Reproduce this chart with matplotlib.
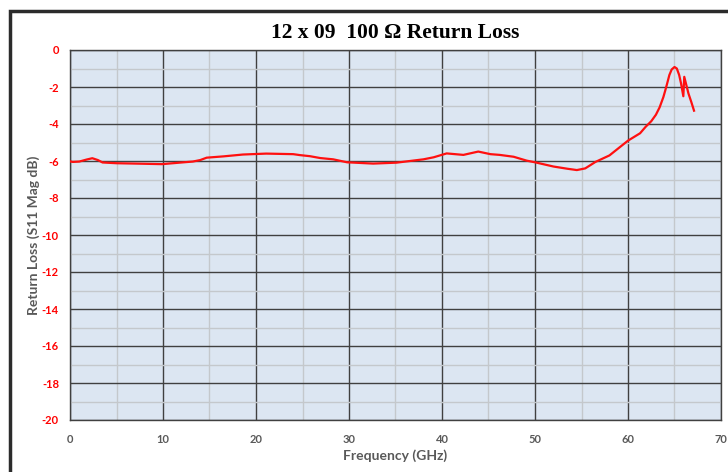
import matplotlib
matplotlib.use("Agg")
import matplotlib.pyplot as plt
from matplotlib.patches import Rectangle
from matplotlib.ticker import MultipleLocator
import numpy as np

plt.rcParams["axes.unicode_minus"] = False

title = "12 x 09  100 \u03a9 Return Loss"
xlabel = "Frequency (GHz)"
ylabel = "Return Loss (S11 Mag dB)"

freq = [0.0, 0.3, 1.0, 1.8, 2.4, 3.0, 3.5, 5.0, 7.0, 9.9, 12.0, 13.2, 14.0, 14.7, 16.5,
        18.6, 21.1, 24.0, 24.7, 25.8, 26.9, 28.3, 29.8, 32.6, 35.1, 38.0, 39.1, 40.5,
        42.3, 43.9, 45.2, 46.2, 47.7, 49.1, 50.0, 52.0, 53.5, 54.5, 55.4, 56.5, 58.0,
        60.0, 61.3, 61.9, 62.5, 63.0, 63.4, 63.8, 64.0, 64.2, 64.45, 64.7, 65.0, 65.25,
        65.5, 65.7, 65.95, 66.05, 66.3, 66.5, 66.8, 67.1]
s11 = [-6.02, -6.05, -6.03, -5.92, -5.85, -5.95, -6.08, -6.12, -6.14, -6.17, -6.08, -6.03,
       -5.95, -5.82, -5.75, -5.65, -5.60, -5.63, -5.68, -5.74, -5.84, -5.91, -6.07, -6.14,
       -6.09, -5.91, -5.80, -5.59, -5.67, -5.49, -5.63, -5.67, -5.77, -5.98, -6.07, -6.30,
       -6.42, -6.49, -6.40, -6.05, -5.70, -4.90, -4.50, -4.15, -3.85, -3.50, -3.10, -2.55,
       -2.20, -1.83, -1.35, -1.05, -0.92, -1.00, -1.35, -1.80, -2.50, -1.45, -1.95, -2.35,
       -2.80, -3.28]

xticks = list(range(0, 71, 10))
yticks = list(range(-20, 1, 2))

W, H = 728, 472
fig = plt.figure(figsize=(W / 100, H / 100), dpi=100)
fig.patch.set_facecolor("white")

# outer frame
fig.add_artist(Rectangle((9.5 / W, -0.05), 1.2, (H - 10.5) / H + 0.05,
                         transform=fig.transFigure, fill=False,
                         edgecolor="#2b2b2b", linewidth=2.5, clip_on=False))

left, right, top, bottom = 70, 721, 50, 420
aw, ah = right - left, bottom - top
ax = fig.add_axes([left / W, 1 - bottom / H, aw / W, ah / H])
ax.set_facecolor("#dce6f2")

ax.plot(freq, s11, color="#ff1010", linewidth=1.6, zorder=3)

ax.set_xlim(0, 70)
ax.set_ylim(-20, 0)
ax.set_xticks(xticks)
ax.set_yticks(yticks)
ax.xaxis.set_minor_locator(MultipleLocator(5))
ax.yaxis.set_minor_locator(MultipleLocator(1))
ax.grid(which="major", color="#404040", linewidth=1.0, zorder=1)
ax.grid(which="minor", color="#c4c8cc", linewidth=1.0, zorder=0.9)
ax.set_axisbelow(True)
ax.tick_params(which="both", length=0)
ax.tick_params(axis="x", pad=10, labelsize=8, labelcolor="#595959")
ax.tick_params(axis="y", pad=8, labelsize=8, labelcolor="#ff0000")
for lab in ax.get_xticklabels() + ax.get_yticklabels():
    lab.set_fontweight("bold")
    lab.set_family("Lato")
for sp in ax.spines.values():
    sp.set_color("#404040")
    sp.set_linewidth(1.0)

ax.set_xlabel(xlabel, fontsize=10, fontweight="bold", color="#595959", family="Lato")
ax.set_ylabel(ylabel, fontsize=10, fontweight="bold", color="#595959", family="Lato")
ax.xaxis.set_label_coords(0.5, -(449 - bottom) / ah)
ax.yaxis.set_label_coords(-(left - 40) / aw, 0.5)

fig.text((left + right) / 2 / W, 1 - 33 / H, title, ha="center", va="center",
         fontsize=15.5, fontweight="bold", family="Liberation Serif", color="black")

fig.savefig("out.png", dpi=100)
